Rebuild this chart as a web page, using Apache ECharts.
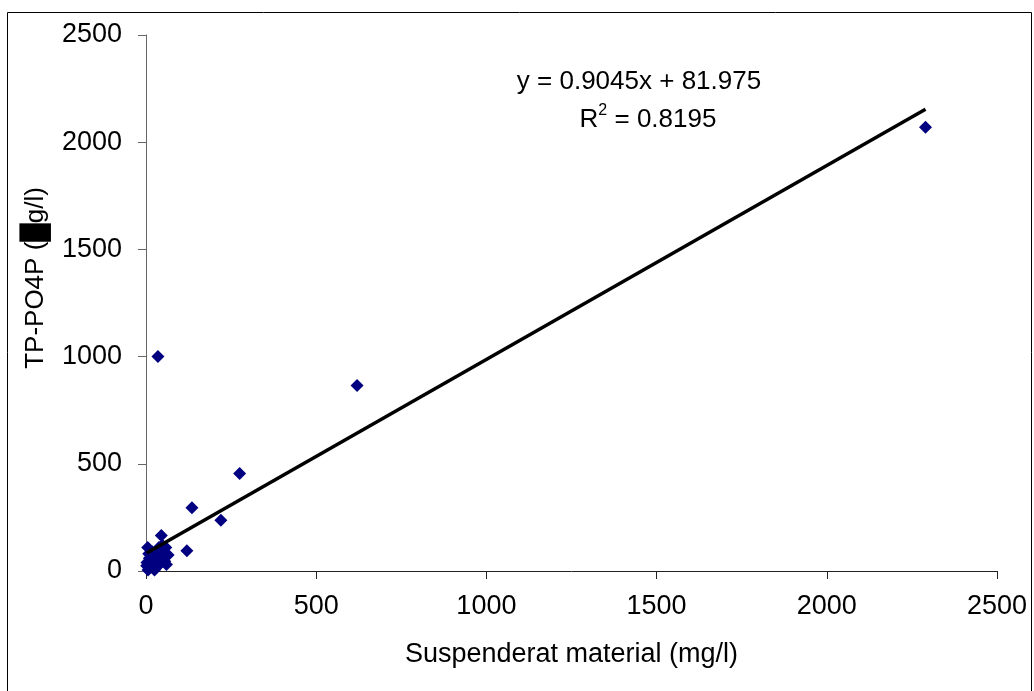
<!DOCTYPE html>
<html>
<head>
<meta charset="utf-8">
<script src="https://cdn.jsdelivr.net/npm/echarts@6/dist/echarts.min.js"></script>
<style>
  html, body { margin: 0; padding: 0; background: #fff; }
  #chart { width: 1034px; height: 691px; }
</style>
</head>
<body>
<div id="chart"></div>
<script>
// measured points (x = suspenderat material mg/l, y = TP-PO4P)
const xValues = [2290, 620, 35, 275, 135, 220, 120, 45,
    5, 8, 10, 3, 12, 15, 20, 25, 18, 30, 35, 40, 45, 50, 55, 60, 65, 28, 8, 2, 22, 38, 48, 58, 42, 52, 15, 32, 6, 25];
const yValues = [2070, 865, 1000, 455, 295, 237, 95, 165,
    110, 80, 60, 40, 30, 20, 50, 70, 90, 40, 25, 60, 100, 80, 45, 30, 75, 15, 15, 25, 35, 110, 120, 110, 35, 60, 65, 85, 5, 5];
const slope = 0.9045;
const intercept = 81.975;
const r2 = 0.8195;
const axisTicks = [0, 500, 1000, 1500, 2000, 2500];

const points = xValues.map((x, i) => [x, yValues[i]]);
const xMin = Math.min(...xValues);
const xMax = Math.max(...xValues);
const trend = [[xMin, slope * xMin + intercept], [xMax, slope * xMax + intercept]];

const font = 'Liberation Sans, Arial, sans-serif';
const chart = echarts.init(document.getElementById('chart'));

const plain = v => String(v);

const option = {
    backgroundColor: '#fff',
    animation: false,
    grid: { left: 146, right: 37, top: 35, bottom: 120 },
    xAxis: {
        type: 'value',
        min: axisTicks[0],
        max: axisTicks[axisTicks.length - 1],
        interval: 500,
        name: 'Suspenderat material (mg/l)',
        nameLocation: 'middle',
        nameGap: 70,
        nameTextStyle: { fontFamily: font, fontSize: 27, color: '#000' },
        axisLine: { lineStyle: { color: '#222', width: 1 } },
        axisTick: { show: true, length: 8, lineStyle: { color: '#222' } },
        axisLabel: { fontFamily: font, fontSize: 27, color: '#000', margin: 22, formatter: plain },
        splitLine: { show: false }
    },
    yAxis: {
        type: 'value',
        min: axisTicks[0],
        max: axisTicks[axisTicks.length - 1],
        interval: 500,
        axisLine: { show: true, lineStyle: { color: '#666', width: 1 } },
        axisTick: { show: true, length: 8, lineStyle: { color: '#666' } },
        axisLabel: { fontFamily: font, fontSize: 27, color: '#000', margin: 24, formatter: plain },
        splitLine: { show: false }
    },
    series: [
        {
            type: 'scatter',
            data: points,
            symbol: 'diamond',
            symbolSize: 13,
            itemStyle: { color: '#000080', opacity: 1 },
            z: 3
        },
        {
            type: 'line',
            data: trend,
            symbol: 'none',
            lineStyle: { color: '#000', width: 3.5 },
            z: 4
        }
    ],
    graphic: [
        {
            type: 'rect',
            shape: { x: 7.5, y: 12.5, width: 1024, height: 700 },
            style: { fill: 'none', stroke: '#000', lineWidth: 1 },
            silent: true
        },
        {
            // y-axis title
            type: 'text',
            x: 36, y: 278,
            rotation: Math.PI / 2,
            style: {
                text: 'TP-PO4P (\u2588g/l)',
                font: '26px ' + font, fill: '#000',
                align: 'center', verticalAlign: 'middle'
            }
        },
        {
            type: 'text',
            x: 639, y: 82,
            style: {
                text: 'y = ' + slope + 'x + ' + intercept,
                font: '26px ' + font, fill: '#000',
                align: 'center', verticalAlign: 'middle'
            }
        },
        {
            type: 'text',
            x: 648, y: 118,
            style: {
                text: '{n|R}{s|2}{n| = ' + r2 + '}',
                align: 'center', verticalAlign: 'middle',
                rich: {
                    n: { fontFamily: font, fontSize: 26, fill: '#000', verticalAlign: 'bottom' },
                    s: { fontFamily: font, fontSize: 16, fill: '#000', verticalAlign: 'top', padding: [0, 0, 14, 0] }
                }
            }
        }
    ]
};
chart.setOption(option);
</script>
</body>
</html>
